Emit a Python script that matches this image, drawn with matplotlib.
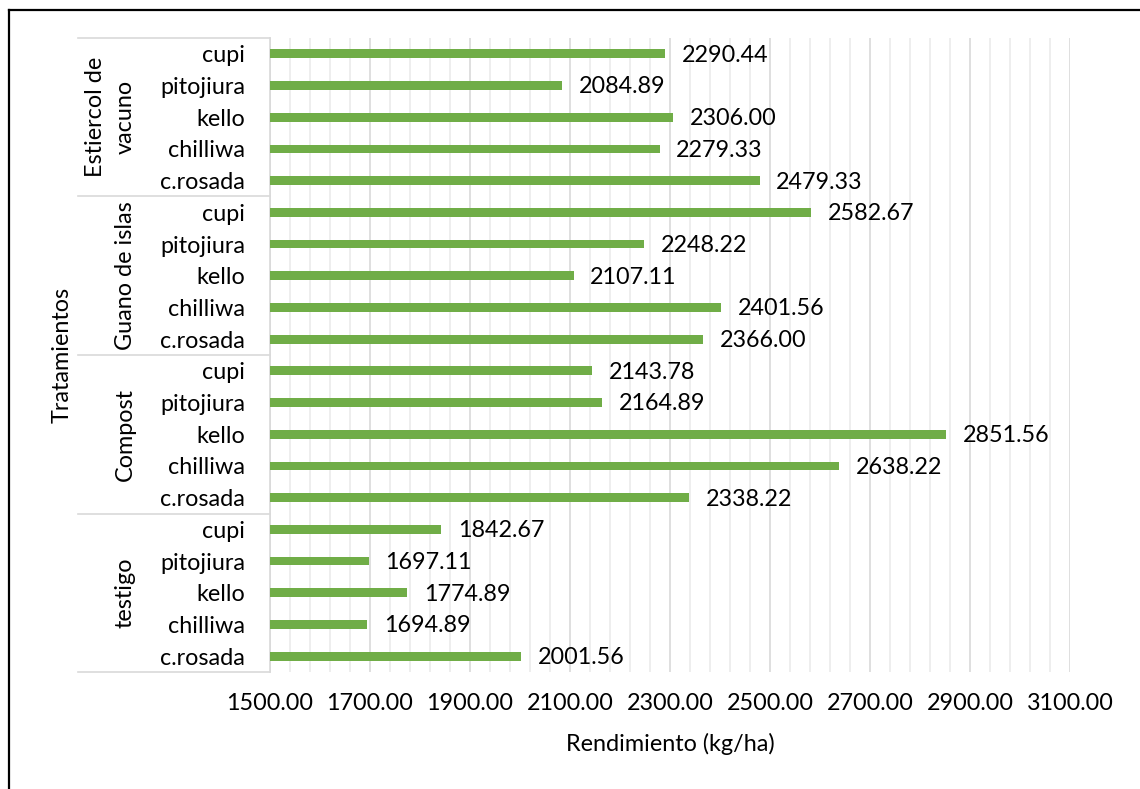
import matplotlib.pyplot as plt
from matplotlib.lines import Line2D
from matplotlib.ticker import MultipleLocator, FuncFormatter
import numpy as np

# Treatments (groups) and varieties, top to bottom as in the chart
groups = ['Estiercol de\nvacuno', 'Guano de islas', 'Compost', 'testigo']
varieties = ['cupi', 'pitojiura', 'kello', 'chilliwa', 'c.rosada']

# Yield (kg/ha) per group, in the same order as varieties
estiercol = [2290.44, 2084.89, 2306.00, 2279.33, 2479.33]
guano = [2582.67, 2248.22, 2107.11, 2401.56, 2366.00]
compost = [2143.78, 2164.89, 2851.56, 2638.22, 2338.22]
testigo = [1842.67, 1697.11, 1774.89, 1694.89, 2001.56]

bar_color = '#70AD47'
grid_major = '#D9D9D9'
grid_minor = '#EBEBEB'
font_size = 16.8

plt.rcParams['font.family'] = ['Lato', 'DejaVu Sans']

values = estiercol + guano + compost + testigo
labels = varieties * len(groups)
y_pos = np.arange(len(values))

fig = plt.figure(figsize=(11.4, 7.89), dpi=100)
ax = fig.add_axes([270 / 1140, 1 - 672 / 789, 800 / 1140, 634 / 789])

ax.barh(y_pos, values, height=0.28, color=bar_color, zorder=3)
ax.set_xlim(1500, 3100)
ax.set_ylim(len(values) - 0.5, -0.5)

# Value labels to the right of each bar
for y, v in zip(y_pos, values):
    ax.annotate(f'{v:.2f}', xy=(v, y), xytext=(12, -1), textcoords='offset points',
                va='center', ha='left', fontsize=font_size, color='black')

# Gridlines like Excel: major every 200, minor every 40
ax.xaxis.set_major_locator(MultipleLocator(200, offset=100))
ax.xaxis.set_minor_locator(MultipleLocator(40, offset=20))
ax.xaxis.set_major_formatter(FuncFormatter(lambda x, p: f'{x:.2f}'))
ax.grid(axis='x', which='major', color=grid_major, lw=1.2, zorder=0)
ax.grid(axis='x', which='minor', color=grid_minor, lw=1.2, zorder=0)
ax.tick_params(axis='x', which='both', length=0, pad=15, labelsize=font_size)
ax.set_axisbelow(True)

ax.set_yticks(y_pos)
ax.set_yticklabels(labels)
ax.tick_params(axis='y', length=0, pad=18, labelsize=font_size)

for side in ['top', 'right', 'bottom']:
    ax.spines[side].set_visible(False)
ax.spines['left'].set_color(grid_major)
ax.spines['left'].set_linewidth(1.2)

# Multi-level category axis: separators and rotated group names
n = len(varieties)
trans = ax.get_yaxis_transform()
for k in range(len(groups) + 1):
    yb = k * n - 0.5
    ax.plot([-0.24, 0], [yb, yb], transform=trans, color=grid_major, lw=1.2, clip_on=False)
for k, g in enumerate(groups):
    yc = k * n + (n - 1) / 2
    ax.text(-0.168, yc, g, transform=trans, rotation=90, ha='right', va='center',
            multialignment='center', fontsize=font_size, linespacing=1.5)

ax.set_xlabel('Rendimiento (kg/ha)', fontsize=font_size, labelpad=14)
fig.text(62 / 1140, 1 - 355 / 789, 'Tratamientos', rotation=90, ha='center', va='center',
         fontsize=font_size)

# Border of the chart area (only top and left visible in the picture)
fig.add_artist(Line2D([9 / 1140, 1], [1 - 10 / 789, 1 - 10 / 789], color='black', lw=1.6))
fig.add_artist(Line2D([9 / 1140, 9 / 1140], [0, 1 - 10 / 789], color='black', lw=1.6))

plt.savefig('out.png', dpi=100)
